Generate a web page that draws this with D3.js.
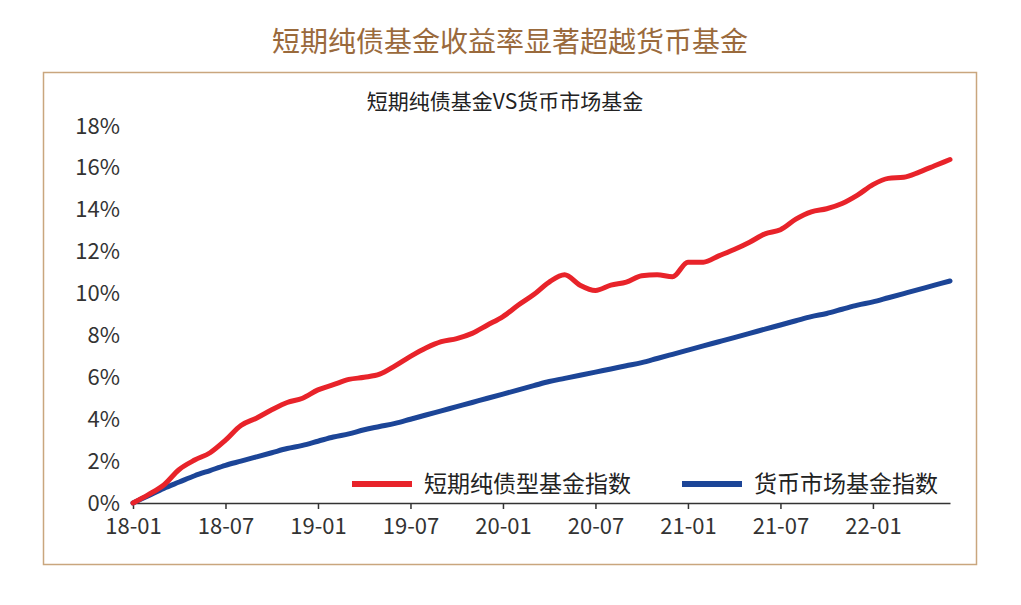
<!DOCTYPE html>
<html><head><meta charset="utf-8">
<script src="https://cdn.jsdelivr.net/npm/d3@7"></script>
<style>body{margin:0;background:#fff;font-family:"Noto Sans CJK SC","Noto Sans",sans-serif}</style>
</head><body><svg id="c" width="1021" height="605"></svg>
<script>
const months=["18-01","18-02","18-03","18-04","18-05","18-06","18-07","18-08","18-09","18-10","18-11","18-12","19-01","19-02","19-03","19-04","19-05","19-06","19-07","19-08","19-09","19-10","19-11","19-12","20-01","20-02","20-03","20-04","20-05","20-06","20-07","20-08","20-09","20-10","20-11","20-12","21-01","21-02","21-03","21-04","21-05","21-06","21-07","21-08","21-09","21-10","21-11","21-12","22-01","22-02","22-03","22-04","22-05","22-06"];
const bondFund=[0,0.4,0.86,1.6,2.05,2.4,3.0,3.7,4.05,4.45,4.8,5.0,5.4,5.65,5.9,6.0,6.15,6.55,7.0,7.4,7.7,7.85,8.1,8.5,8.9,9.45,9.95,10.55,10.9,10.4,10.15,10.4,10.55,10.85,10.9,10.8,11.5,11.5,11.8,12.1,12.45,12.85,13.05,13.55,13.9,14.05,14.3,14.7,15.2,15.5,15.55,15.8,16.1,16.4];
const moneyFund=[0,0.35,0.7,1.0,1.3,1.55,1.8,2.0,2.2,2.4,2.6,2.75,2.95,3.15,3.3,3.5,3.65,3.8,4.0,4.2,4.4,4.6,4.8,5.0,5.2,5.4,5.6,5.8,5.95,6.1,6.25,6.4,6.55,6.7,6.9,7.1,7.3,7.5,7.7,7.9,8.1,8.3,8.5,8.7,8.9,9.05,9.25,9.45,9.6,9.8,10.0,10.2,10.4,10.6];
const xTicks=["18-01","18-07","19-01","19-07","20-01","20-07","21-01","21-07","22-01"];
const yTicks=[0,2,4,6,8,10,12,14,16,18];
const series=[{name:"短期纯债型基金指数",vals:bondFund,color:"#e8232a"},{name:"货币市场基金指数",vals:moneyFund,color:"#1c4597"}];

const svg=d3.select("#c");
svg.append("text").attr("x",510).attr("y",52).attr("text-anchor","middle").attr("font-size",28).attr("fill","#9a6a3c").text("短期纯债基金收益率显著超越货币基金");
svg.append("rect").attr("x",43.5).attr("y",72.5).attr("width",933).attr("height",492).attr("fill","none").attr("stroke","#c9a67e").attr("stroke-width",1.5);
svg.append("text").attr("x",505).attr("y",109).attr("text-anchor","middle").attr("font-size",21).attr("fill","#222").text("短期纯债基金VS货币市场基金");
const x=d3.scalePoint().domain(months).range([133,950]);
const y=d3.scaleLinear().domain([0,18]).range([503,126]);
const ax=svg.append("g").attr("transform","translate(0,503)").call(d3.axisBottom(x).tickValues(xTicks).tickSize(6).tickSizeOuter(0));
ax.select(".domain").attr("stroke","#333").attr("stroke-width",1.5);
ax.selectAll("line").attr("stroke","#333").attr("stroke-width",1.5);
ax.selectAll("text").attr("font-size",22).attr("fill","#333").attr("dy","1.0em").style("font-family","Noto Sans CJK SC");
const ay=svg.append("g").attr("transform","translate(123,0)").call(d3.axisLeft(y).tickValues(yTicks).tickFormat(d=>d+"%").tickSize(0));
ay.select(".domain").remove();
ay.selectAll("text").attr("font-size",22).attr("fill","#333").style("font-family","Noto Sans CJK SC");
const line=d3.line().x((d,i)=>x(months[i])).y(d=>y(d)).curve(d3.curveMonotoneX);
[series[1],series[0]].forEach(s=>svg.append("path").attr("d",line(s.vals)).attr("fill","none").attr("stroke",s.color).attr("stroke-width",5).attr("stroke-linecap","round"));
const lx=[352,682];
series.forEach((s,i)=>{
 svg.append("line").attr("x1",lx[i]).attr("x2",lx[i]+60).attr("y1",484).attr("y2",484).attr("stroke",s.color).attr("stroke-width",6);
 svg.append("text").attr("x",lx[i]+72).attr("y",492).attr("font-size",23).attr("fill","#222").text(s.name);
});
</script></body></html>
